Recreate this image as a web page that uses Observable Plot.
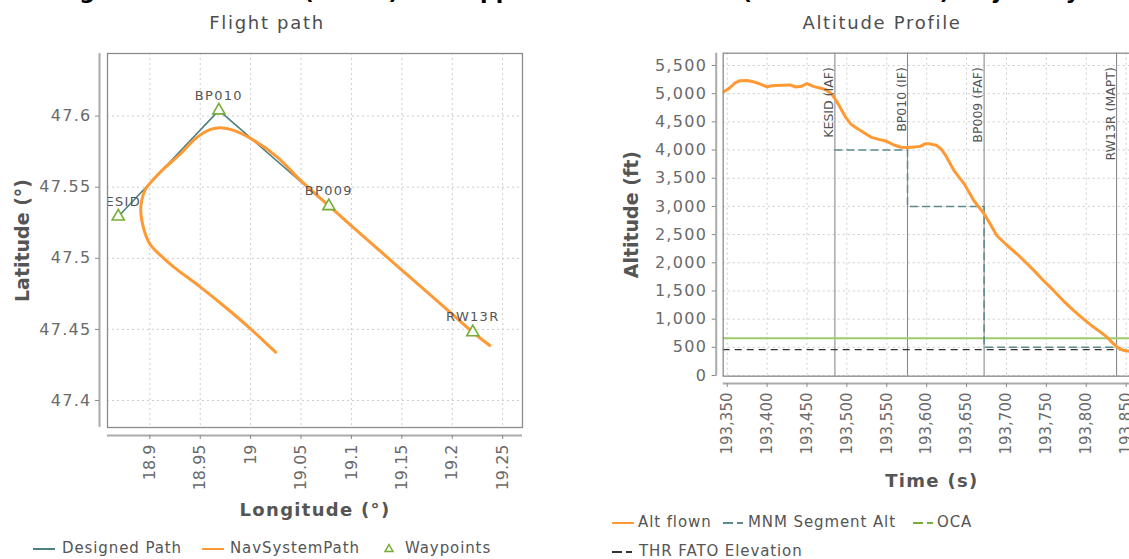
<!DOCTYPE html>
<html><head><meta charset="utf-8">
<script src="https://cdn.jsdelivr.net/npm/d3@7"></script>
<script src="https://cdn.jsdelivr.net/npm/@observablehq/plot@0.6"></script>
<style>
html,body{margin:0;padding:0;overflow:hidden;background:#fff;width:1129px;height:559px;}
#root{position:relative;width:1129px;height:559px;font-family:"DejaVu Sans",sans-serif;overflow:hidden;}
.abs{position:absolute;white-space:nowrap;}
.ptitle{font-size:18px;letter-spacing:1.7px;color:#4d4d4d;line-height:22px;text-align:center;}
.leg{font-size:15px;letter-spacing:0.9px;color:#555;line-height:18px;}
svg.chart{position:absolute;top:0;}
svg.chart .hz text{letter-spacing:1.3px;}
</style></head><body><div id="root"></div>
<script>
// ---------- data: flight path ----------
const wpNames = ["KESID", "BP010", "BP009", "RW13R"];
const wpLon = [18.8687, 18.9685, 19.0776, 19.2204];
const wpLat = [47.5294, 47.6040, 47.5367, 47.4480];
const navLon = [19.0247, 18.9999, 18.9768, 18.9503, 18.9238, 18.9106, 18.9010, 18.8960, 18.8925, 18.8910, 18.8920, 18.8960, 18.9030, 18.9139, 18.9305, 18.9470, 18.9602, 18.9701, 18.9833, 19.0032, 19.0264, 19.0495, 19.0776, 19.1000, 19.1500, 19.2000, 19.2204, 19.2373];
const navLat = [47.4340, 47.4504, 47.4645, 47.4797, 47.4938, 47.5020, 47.5090, 47.5160, 47.5250, 47.5330, 47.5410, 47.5490, 47.5550, 47.5630, 47.5735, 47.5852, 47.5906, 47.5918, 47.5899, 47.5829, 47.5712, 47.5548, 47.5370, 47.5228, 47.4917, 47.4607, 47.4480, 47.4387];
const lonTicks = [18.9, 18.95, 19, 19.05, 19.1, 19.15, 19.2, 19.25];
const latTicks = [47.4, 47.45, 47.5, 47.55, 47.6];

// ---------- data: altitude profile ----------
const altTime = [193345, 193352, 193360, 193366, 193375, 193383, 193390, 193400, 193406, 193418, 193429, 193436, 193443, 193450, 193458, 193466, 193474, 193481, 193487, 193493, 193499, 193505, 193512, 193519, 193530, 193540, 193550, 193559, 193568, 193576, 193585, 193592, 193598, 193604, 193612, 193618, 193624, 193634, 193647, 193659, 193672, 193680, 193688, 193700, 193713, 193724, 193734, 193746, 193759, 193771, 193784, 193796, 193809, 193818, 193826, 193833, 193839, 193846, 193854, 193862];
const altFt = [5030, 5090, 5190, 5230, 5235, 5210, 5180, 5120, 5140, 5150, 5155, 5118, 5130, 5180, 5130, 5100, 5070, 4990, 4870, 4720, 4570, 4460, 4390, 4330, 4230, 4190, 4155, 4090, 4050, 4045, 4055, 4065, 4110, 4110, 4085, 4020, 3900, 3640, 3400, 3105, 2870, 2680, 2480, 2320, 2160, 2010, 1870, 1690, 1510, 1330, 1155, 1010, 860, 770, 680, 580, 500, 450, 430, 430];
const fixNames = ["KESID (IAF)", "BP010 (IF)", "BP009 (FAF)", "RW13R (MAPT)"];
const fixTime = [193485, 193576, 193672, 193838];
const mnmAlt = [4000, 3000, 500, 500];
const ocaFt = [660];
const thrFt = [460];
const timeTicks = [193350, 193400, 193450, 193500, 193550, 193600, 193650, 193700, 193750, 193800, 193850];
const altTicks = [0, 500, 1000, 1500, 2000, 2500, 3000, 3500, 4000, 4500, 5000, 5500];

// ---------- colours ----------
const cDesigned = "#4f8080", cNav = "#ff9933", cWp = "#77ab3a";
const cMnm = "#5c8a8a", cOca = "#9ccc6a", cThr = "#333333";
const gridStyle = {stroke: "#cccccc", strokeOpacity: 1, strokeDasharray: "2,3"};

const root = document.getElementById("root");

// ---------- left chart ----------
const wp = wpNames.map((n, i) => ({name: n, lon: wpLon[i], lat: wpLat[i]}));
const nav = navLon.map((x, i) => ({lon: x, lat: navLat[i]}));
const lonDom = [18.858, 19.2697], latDom = [47.381, 47.644];

const left = Plot.plot({
  width: 540, height: 559,
  marginLeft: 107, marginRight: 18, marginTop: 53, marginBottom: 132,
  x: {domain: lonDom}, y: {domain: latDom},
  style: {fontFamily: "DejaVu Sans", background: "transparent", color: "#666"},
  marks: [
    Plot.gridX(lonTicks, gridStyle),
    Plot.gridY(latTicks, gridStyle),
    Plot.line(wp, {x: "lon", y: "lat", stroke: cDesigned, strokeWidth: 1.6, clip: true}),
    Plot.line(nav, {x: "lon", y: "lat", stroke: cNav, strokeWidth: 3, curve: "catmull-rom", clip: true}),
    Plot.dot(wp, {x: "lon", y: "lat", symbol: "triangle", r: 4.5, stroke: cWp, fill: "#f6faf0", strokeWidth: 1.6}),
    Plot.text(wp, {x: "lon", y: "lat", text: "name", dy: -15, fill: "#555", fontSize: 13, clip: true, className: "hz"}),
    Plot.frame({stroke: "#8c8c8c", strokeWidth: 1.3}),
    Plot.ruleX([lonDom[0]], {dx: -8, stroke: "#aaaaaa", strokeWidth: 2}),
    Plot.ruleY([latDom[0]], {dy: 8, stroke: "#aaaaaa", strokeWidth: 2}),
    Plot.axisX(lonTicks, {dy: 8, tickSize: 4, tickPadding: 5, tickRotate: -90, tickFormat: d => String(d), fontSize: 16, fill: "#6a6a6a", stroke: "#888", label: null}),
    Plot.axisY(latTicks, {dx: -8, tickSize: 4, tickPadding: 4, tickFormat: d => String(d), fontSize: 16, fill: "#6a6a6a", stroke: "#888", label: null, className: "hz"}),
    Plot.text(["Longitude (°)"], {text: d => d, frameAnchor: "bottom", dy: 83, textAnchor: "middle", lineAnchor: "middle", fontSize: 18, fontWeight: "bold", fill: "#555", className: "hz"}),
    Plot.text(["Latitude (°)"], {text: d => d, frameAnchor: "left", dx: -85, rotate: -90, textAnchor: "middle", lineAnchor: "middle", fontSize: 19, fontWeight: "bold", fill: "#555"})
  ]
});
left.classList.add("chart");
left.style.left = "0px";
root.appendChild(left);

// ---------- right chart ----------
const alt = altTime.map((t, i) => ({t, alt: altFt[i]}));
const fixes = fixNames.map((n, i) => ({name: n, t: fixTime[i]}));
const mnm = fixTime.map((t, i) => ({t, alt: mnmAlt[i]}));
const timeDom = [193345, 193868], altDom = [-12, 5718];

const right = Plot.plot({
  width: 600, height: 500,
  marginLeft: 162.7, marginRight: 20, marginTop: 52.7, marginBottom: 124.3,
  x: {domain: timeDom}, y: {domain: altDom},
  style: {fontFamily: "DejaVu Sans", background: "transparent", color: "#666"},
  marks: [
    Plot.gridX(timeTicks, gridStyle),
    Plot.gridY(altTicks, gridStyle),
    Plot.ruleX(fixes, {x: "t", stroke: "#8a8a8a", strokeWidth: 1.1}),
    Plot.ruleY(ocaFt, {stroke: cOca, strokeWidth: 2}),
    Plot.ruleY(thrFt, {stroke: cThr, strokeWidth: 1.3, strokeDasharray: "7,5"}),
    Plot.line(mnm, {x: "t", y: "alt", curve: "step-after", stroke: cMnm, strokeWidth: 1.5, strokeDasharray: "7,5"}),
    Plot.line(alt, {x: "t", y: "alt", stroke: cNav, strokeWidth: 3, clip: true}),
    Plot.text(fixes, {x: "t", text: "name", frameAnchor: "top", rotate: -90, textAnchor: "end", lineAnchor: "bottom", dx: -2, dy: 14, fontSize: 12.5, fill: "#555"}),
    Plot.frame({stroke: "#8c8c8c", strokeWidth: 1.3}),
    Plot.ruleX([timeDom[0]], {dx: -7, stroke: "#aaaaaa", strokeWidth: 2}),
    Plot.ruleY([altDom[0]], {dy: 7.3, stroke: "#aaaaaa", strokeWidth: 2}),
    Plot.axisX(timeTicks, {dy: 7.3, tickSize: 4, tickPadding: 5, tickRotate: -90, tickFormat: d3.format(","), fontSize: 15, fill: "#6a6a6a", stroke: "#888", label: null}),
    Plot.axisY(altTicks, {dx: -7, tickSize: 4, tickPadding: 5, tickFormat: d3.format(","), fontSize: 16, fill: "#6a6a6a", stroke: "#888", label: null, className: "hz"}),
    Plot.text(["Time (s)"], {text: d => d, frameAnchor: "bottom", dy: 105, textAnchor: "middle", lineAnchor: "middle", fontSize: 18, fontWeight: "bold", fill: "#555", className: "hz"}),
    Plot.text(["Altitude (ft)"], {text: d => d, frameAnchor: "left", dx: -91, rotate: -90, textAnchor: "middle", lineAnchor: "middle", fontSize: 19, fontWeight: "bold", fill: "#555"})
  ]
});
right.classList.add("chart");
right.style.left = "560px";
root.appendChild(right);

// ---------- titles ----------
function addDiv(html, css, cls) {
  const d = document.createElement("div");
  d.className = "abs " + (cls || "");
  d.innerHTML = html;
  Object.assign(d.style, css);
  root.appendChild(d);
  return d;
}
addDiv("Flight 1234 at LHBP (KESID) RNP approach to RWY 13R (KESID - RW13R) trajectory",
  {left: "0px", width: "1129px", top: "-19px", textAlign: "center", fontSize: "22px", fontWeight: "bold", lineHeight: "22px", color: "#000"});
addDiv("Flight path", {left: "0px", width: "534px", top: "12px"}, "ptitle");
addDiv("Altitude Profile", {left: "582px", width: "600px", top: "12px"}, "ptitle");

// ---------- legends ----------
function swatch(x, y, color, dash, w) {
  const s = `<svg width="${w || 22}" height="6"><line x1="0" y1="3" x2="${w || 22}" y2="3" stroke="${color}" stroke-width="2" ${dash ? `stroke-dasharray="${dash}"` : ""}/></svg>`;
  addDiv(s, {left: x + "px", top: (y - 3) + "px", lineHeight: "0"});
}
function triSwatch(x, y, color) {
  const s = `<svg width="10" height="10"><polygon points="5,1.5 9,8.5 1,8.5" fill="#f6faf0" stroke="${color}" stroke-width="1.5"/></svg>`;
  addDiv(s, {left: x + "px", top: (y - 5) + "px", lineHeight: "0"});
}
function legText(x, y, t) { addDiv(t, {left: x + "px", top: (y - 9) + "px"}, "leg"); }

// left legend
swatch(33, 549, cDesigned); legText(62, 548, "Designed Path");
swatch(202, 549, cNav); legText(230, 548, "NavSystemPath");
triSwatch(384, 548, cWp); legText(405, 548, "Waypoints");
// right legend
swatch(612, 523, cNav); legText(638, 522, "Alt flown");
swatch(723, 523, cMnm, "10,4,6,20"); legText(748, 522, "MNM Segment Alt");
swatch(913, 523, cWp, "10,4,6,20"); legText(937, 522, "OCA");
swatch(612, 552, cThr, "10,4,6,20"); legText(639, 551, "THR FATO Elevation");
</script></body></html>
